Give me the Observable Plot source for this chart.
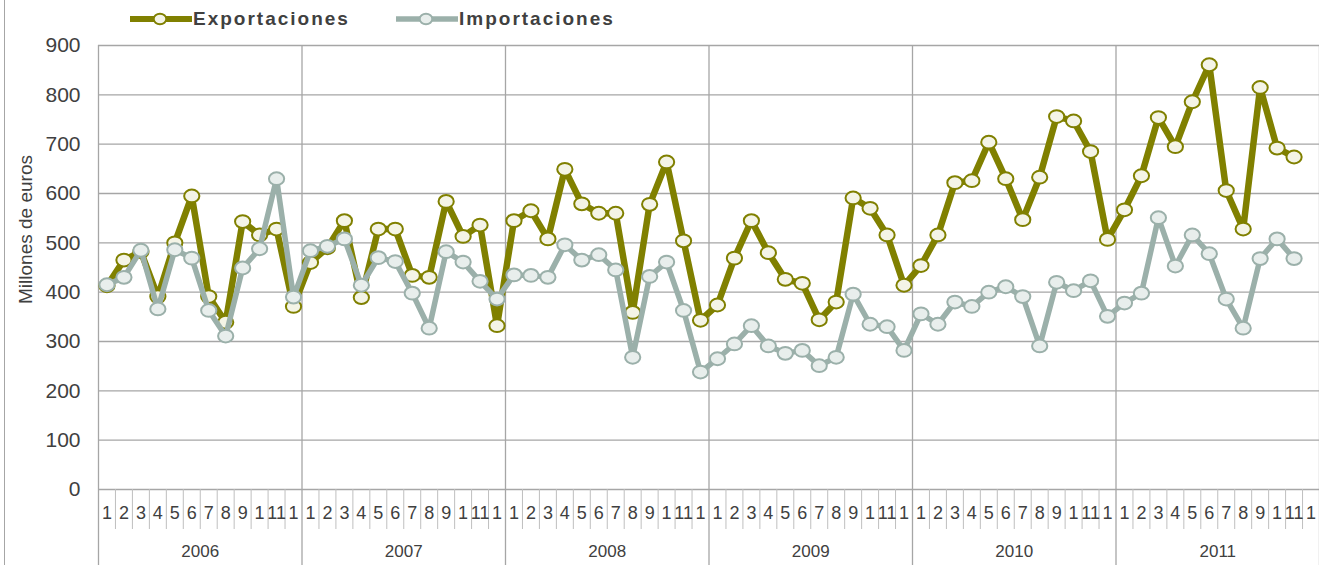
<!DOCTYPE html>
<html>
<head>
<meta charset="utf-8">
<script src="https://cdn.jsdelivr.net/npm/d3@7"></script>
<script src="https://cdn.jsdelivr.net/npm/@observablehq/plot@0.6"></script>
<style>
  html, body { margin: 0; padding: 0; background: #fff; }
  #wrap { position: relative; width: 1319px; height: 565px; overflow: hidden; font-family: "Liberation Sans", Arial, sans-serif; }
  #frame { position: absolute; left: 4px; top: 0; width: 0; height: 565px; border-left: 1px solid #a6a6a6; }
  .leg { position: absolute; top: 8px; height: 22px; display: flex; align-items: center; }
  .leg span { font-weight: bold; font-size: 19px; letter-spacing: 2px; color: #404040; margin-left: 1px; }
</style>
</head>
<body>
<div id="wrap">
  <div id="frame"></div>
  <div id="chart"></div>
  <div class="leg" style="left:130px">
    <svg width="62" height="16"><line x1="0" y1="8" x2="62" y2="8" stroke="#808000" stroke-width="6"/><ellipse cx="30" cy="8" rx="6.3" ry="5.3" fill="#f4f4e6" stroke="#808000" stroke-width="2"/></svg>
    <span>Exportaciones</span>
  </div>
  <div class="leg" style="left:396px">
    <svg width="62" height="16"><line x1="0" y1="8" x2="62" y2="8" stroke="#9bb0aa" stroke-width="5.5"/><ellipse cx="30" cy="8" rx="6.3" ry="5.3" fill="#e8eeec" stroke="#9bb0aa" stroke-width="2"/></svg>
    <span>Importaciones</span>
  </div>
</div>
<script>
// ---- Data ----
const meses = ["1","2","3","4","5","6","7","8","9","1","11","1"];
const anios = [2006, 2007, 2008, 2009, 2010, 2011];
const yTicks = [0, 100, 200, 300, 400, 500, 600, 700, 800, 900];
const yLabel = "Millones de euros";
const series = ["Exportaciones", "Importaciones"];

const exportaciones = [
  413, 465, 482, 391, 500, 595, 391, 339, 543, 516, 528, 371,
  460, 490, 545, 389, 528, 528, 434, 430, 584, 513, 536, 332,
  545, 565, 508, 649, 579, 560, 560, 359, 578, 664, 504, 343,
  374, 469, 545, 480, 426, 418, 344, 380, 591, 570, 516, 414,
  454, 516, 622, 626, 704, 630, 547, 633, 756, 747, 685, 507,
  567, 636, 754, 695, 786, 861, 606, 528, 815, 692, 674
];
const importaciones = [
  415, 430, 485, 366, 486, 469, 363, 311, 449, 488, 630, 390,
  484, 493, 508, 414, 470, 462, 398, 327, 482, 461, 422, 386,
  435, 434, 430, 496, 465, 476, 445, 268, 432, 461, 363, 238,
  265, 295, 332, 291, 276, 282, 251, 268, 396, 335, 330, 282,
  356, 335, 380, 371, 400, 411, 391, 291, 420, 403, 423, 351,
  378, 398, 551, 453, 516, 478, 386, 327, 468, 508, 468
];

// ---- Build ----
const nCat = anios.length * meses.length;
const expRows = exportaciones.map((v, i) => ({i: i + 0.5, v, s: series[0]}));
const impRows = importaciones.map((v, i) => ({i: i + 0.5, v, s: series[1]}));
const cats = d3.range(nCat);
const yearBounds = d3.range(0, nCat + 1, meses.length);
const monthBounds = d3.range(1, nCat).filter(k => k % meses.length !== 0);

const ellipse = {
  draw(ctx, size) {
    const r = Math.sqrt(size / Math.PI);
    const rx = r * 1.12, ry = r * 0.94, k = 0.5523;
    ctx.moveTo(rx, 0);
    ctx.bezierCurveTo(rx, ry * k, rx * k, ry, 0, ry);
    ctx.bezierCurveTo(-rx * k, ry, -rx, ry * k, -rx, 0);
    ctx.bezierCurveTo(-rx, -ry * k, -rx * k, -ry, 0, -ry);
    ctx.bezierCurveTo(rx * k, -ry, rx, -ry * k, rx, 0);
    ctx.closePath();
  }
};

const gridColor = "#a6a6a6";
const textColor = "#404040";

const chart = Plot.plot({
  width: 1319,
  height: 565,
  marginLeft: 98,
  marginRight: 0,
  marginTop: 45,
  marginBottom: 76,
  x: {domain: [0, nCat], axis: null},
  y: {domain: [0, 900], axis: null},
  style: {fontFamily: "'Liberation Sans', Arial, sans-serif", color: textColor, background: "transparent", overflow: "visible"},
  marks: [
    Plot.ruleY(yTicks, {stroke: gridColor, strokeWidth: 1.3}),
    Plot.ruleX(yearBounds, {y1: 900, y2: 0, insetBottom: -76, stroke: gridColor, strokeWidth: 1.3}),
    Plot.ruleX(monthBounds, {y1: 0, y2: 0, insetBottom: -40, stroke: "#bfbfbf", strokeWidth: 1}),
    Plot.text(yTicks, {x: 0, y: d => d, text: d => String(d), textAnchor: "end", dx: -18, fontSize: 21, fill: textColor}),
    Plot.text([yLabel], {frameAnchor: "left", textAnchor: "middle", dx: -73, dy: -38, rotate: -90, fontSize: 19, fill: textColor}),
    Plot.text(cats, {x: d => d + 0.5, y: 0, text: d => meses[d % meses.length], dy: 24, fontSize: 18, fill: textColor}),
    Plot.text(anios, {x: (d, i) => i * meses.length + meses.length / 2, y: 0, text: d => String(d), dy: 62, fontSize: 17, fill: textColor}),
    Plot.line(expRows, {x: "i", y: "v", stroke: "#808000", strokeWidth: 6.5, strokeLinejoin: "miter"}),
    Plot.dot(expRows, {x: "i", y: "v", r: 6.8, symbol: ellipse, fill: "#f4f4e6", stroke: "#808000", strokeWidth: 2}),
    Plot.line(impRows, {x: "i", y: "v", stroke: "#9bb0aa", strokeWidth: 5.5, strokeLinejoin: "miter"}),
    Plot.dot(impRows, {x: "i", y: "v", r: 6.8, symbol: ellipse, fill: "#e8eeec", stroke: "#9bb0aa", strokeWidth: 2})
  ]
});
document.getElementById("chart").appendChild(chart);
</script>
</body>
</html>
